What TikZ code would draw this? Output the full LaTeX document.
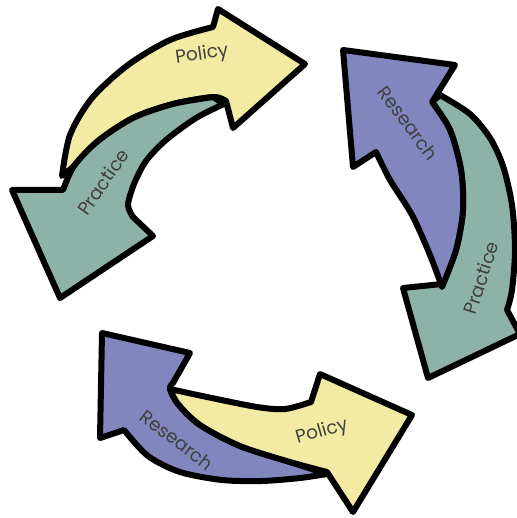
\documentclass[tikz,border=0pt]{standalone}
\usepackage{fontspec}
\newfontfamily\arrowfont{Poppins}
\definecolor{policyyellow}{RGB}{243,234,163}
\definecolor{practiceteal}{RGB}{141,179,168}
\definecolor{researchblue}{RGB}{130,134,190}

\begin{document}
\begin{tikzpicture}[x=1pt, y=-1pt,
    bigarrow/.style={draw=black, line width=6pt, line join=round},
    armtext/.style={font=\arrowfont\fontsize{18.5}{19}\selectfont, text=black!75, inner sep=0pt}]
    \useasboundingbox (0,0) rectangle (516,518);

    % Top left: Policy arrow
    \filldraw[bigarrow, fill=policyyellow] plot[smooth] coordinates {(62,176) (70,135) (92,98) (128,65) (170,40) (213,27)}
        -- (218,9) -- (305,64) -- (233,128) -- (226,101)
        -- plot[smooth] coordinates {(226,101) (213,97) (173,104) (133,118) (98,141) (74,166) (62,176)} -- cycle;
    % Top left: Practice arrow
    \filldraw[bigarrow, fill=practiceteal] plot[smooth] coordinates {(224,104) (196,118) (166,140) (146,161) (134,184) (128,205) (133,217)}
        -- (153,236) -- (60,298) -- (12,190) -- (63,190)
        -- plot[smooth] coordinates {(63,190) (74,166) (98,141) (133,118) (173,104) (213,97)} -- cycle;

    % Right: Practice arrow
    \filldraw[bigarrow, fill=practiceteal] plot[smooth] coordinates {(440,95) (470,114) (490,138) (503,166) (512,205) (515,250) (512,290) (507,310)}
        -- (520,334) -- (428,378) -- (403,288) -- (442,284)
        -- plot[smooth] coordinates {(442,284) (456,250) (463,210) (461,170) (450,130) (432,102)} -- cycle;
    % Right: Research arrow
    \filldraw[bigarrow, fill=researchblue] (343,50) -- (455,65) -- (432,102)
        -- plot[smooth] coordinates {(432,102) (450,130) (461,170) (463,210) (456,250) (442,287)}
        -- plot[smooth] coordinates {(442,287) (430,255) (412,215) (390,180) (376,152)}
        -- (353,167) -- cycle;

    % Bottom: Research arrow
    \filldraw[bigarrow, fill=researchblue] (102,333) -- (190,353) -- (173,383)
        -- plot[smooth] coordinates {(173,383) (170,389) (178,404) (200,425) (240,446) (290,462) (327,474)}
        -- plot[smooth] coordinates {(327,474) (300,478) (262,481) (222,480) (180,472) (148,456) (124,430)}
        -- (100,438) -- cycle;
    % Bottom: Policy arrow
    \filldraw[bigarrow, fill=policyyellow] plot[smooth] coordinates {(170,389) (207,397) (257,407) (285,409) (311,402)}
        -- (320,374) -- (412,415) -- (353,512) -- (327,472)
        -- plot[smooth] coordinates {(327,472) (290,462) (240,446) (200,425) (178,404) (170,389)} -- cycle;

    % Labels
    \node[armtext, rotate=8] (policytop) at (202,55) {Policy};
    \node[armtext, rotate=55] (practiceleft) at (103,182) {Practice};
    \node[armtext, rotate=-53] (researchright) at (408,123) {Research};
    \node[armtext, rotate=72] (practiceright) at (481,278) {Practice};
    \node[armtext, rotate=-37] (researchbottom) at (177,440) {Research};
    \node[armtext, rotate=16] (policybottom) at (322,432) {Policy};
\end{tikzpicture}
\end{document}
